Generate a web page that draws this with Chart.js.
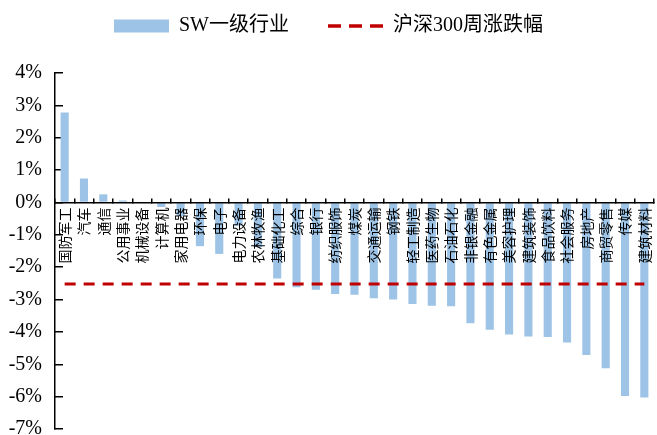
<!DOCTYPE html>
<html>
<head>
<meta charset="utf-8">
<script src="https://cdn.jsdelivr.net/npm/chart.js@4/dist/chart.umd.min.js"></script>
<style>
  html, body { margin: 0; padding: 0; background: #fff; }
  #wrap { width: 657px; height: 435px; }
</style>
</head>
<body>
<div id="wrap"><canvas id="weekChart"></canvas></div>
<script>
// SW level-1 industries, weekly change (%)
const industries = ["国防军工", "汽车", "通信", "公用事业", "机械设备", "计算机", "家用电器", "环保", "电子",
    "电力设备", "农林牧渔", "基础化工", "综合", "银行", "纺织服饰", "煤炭", "交通运输", "钢铁",
    "轻工制造", "医药生物", "石油石化", "非银金融", "有色金属", "美容护理", "建筑装饰", "食品饮料",
    "社会服务", "房地产", "商贸零售", "传媒", "建筑材料"];
const swChange = [2.78, 0.74, 0.25, 0.06, -0.02, -0.14, -0.42, -1.35, -1.59,
    -0.72, -1.38, -2.35, -2.62, -2.70, -2.83, -2.85, -2.96, -3.00,
    -3.14, -3.19, -3.21, -3.73, -3.93, -4.08, -4.14, -4.16,
    -4.33, -4.71, -5.12, -5.98, -6.03];
const hs300Change = -2.52;
const yTicks = [4, 3, 2, 1, 0, -1, -2, -3, -4, -5, -6, -7];

const hsLine = industries.map(() => hs300Change);
const serif = '"Liberation Serif", "Noto Sans CJK SC", serif';

new Chart("weekChart", {
    data: {
        labels: industries,
        datasets: [{
            type: "line",
            label: "沪深300周涨跌幅",
            data: hsLine,
            borderColor: "#c00000",
            borderWidth: 3,
            borderDash: [11, 8],
            pointRadius: 0,
            fill: false,
            order: 0
        },
        {
            type: "bar",
            label: "SW一级行业",
            data: swChange,
            backgroundColor: "#9dc3e6",
            barPercentage: 0.42,
            categoryPercentage: 1,
            order: 1
        }]
    },
    options: {
        responsive: true,
        maintainAspectRatio: false,
        animation: false,
        layout: { padding: { top: 2 } },
        plugins: {
            tooltip: { enabled: false },
            // empty subtitle used as a spacer between legend and plot
            subtitle: {
                display: true,
                text: " ",
                position: "top",
                weight: 500,
                font: { size: 9, lineHeight: 1 },
                padding: { top: 9, bottom: 9 }
            },
            legend: {
                position: "top",
                labels: {
                    font: { family: serif, size: 20 },
                    color: "#000",
                    padding: 14,
                    usePointStyle: true,
                    pointStyleWidth: 55,
                    boxHeight: 13,
                    generateLabels: function(chart) {
                        return [{
                            text: "SW一级行业     ",
                            fillStyle: "#9dc3e6",
                            strokeStyle: "#9dc3e6",
                            lineWidth: 0,
                            pointStyle: "rect",
                            datasetIndex: 1
                        },
                        {
                            text: "沪深300周涨跌幅",
                            fillStyle: "#c00000",
                            strokeStyle: "#c00000",
                            lineWidth: 3.5,
                            lineDash: [13, 8],
                            pointStyle: "line",
                            datasetIndex: 0
                        }];
                    }
                }
            }
        },
        scales: {
            x: {
                position: { y: 0 },
                grid: { drawOnChartArea: false, color: "#000", lineWidth: 1.5, tickLength: -5 },
                border: { display: true, color: "#000", width: 1.5, z: 1 },
                ticks: {
                    autoSkip: false,
                    minRotation: 90,
                    maxRotation: 90,
                    padding: 10,
                    z: 1,
                    color: "#000",
                    font: { family: '"Noto Sans CJK SC", sans-serif', size: 14 }
                },
                afterFit: function(scale) {
                    scale.paddingLeft = 0;
                    scale.paddingRight = 3;
                }
            },
            y: {
                min: -7,
                max: 4,
                afterBuildTicks: function(scale) {
                    scale.ticks = yTicks.map(v => ({ value: v }));
                },
                grid: { drawOnChartArea: false, color: "#000", lineWidth: 1.5, tickLength: -8 },
                border: { display: true, color: "#000", width: 1.5, z: 1 },
                ticks: {
                    padding: 21,
                    color: "#000",
                    font: { family: serif, size: 20 },
                    callback: v => v + "%"
                },
                afterFit: function(scale) {
                    scale.width = 55;
                    scale.paddingTop = 0;
                    scale.paddingBottom = 6;
                }
            }
        }
    }
});
</script>
</body>
</html>
